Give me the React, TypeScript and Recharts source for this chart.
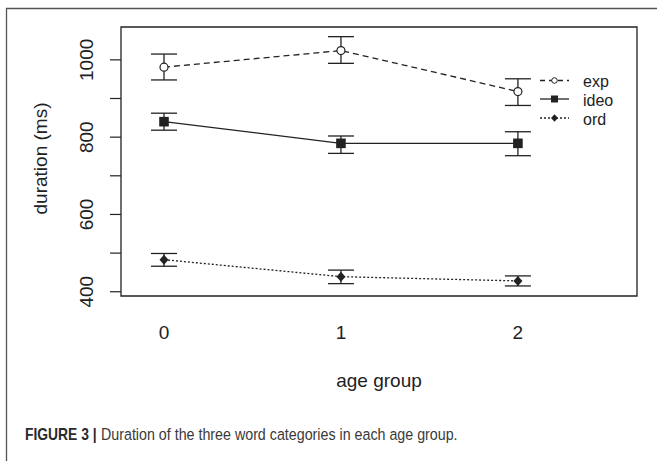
import React from 'react';
import {
  ComposedChart,
  Line,
  XAxis,
  YAxis,
  ErrorBar,
  ReferenceArea,
  Legend,
  Label,
} from 'recharts';

// ---- data ----
const ageGroups = [0, 1, 2];
const expMean = [981, 1024, 918];
const expLow = [948, 991, 882];
const expHigh = [1015, 1060, 951];
const ideoMean = [840, 784, 784];
const ideoLow = [818, 758, 752];
const ideoHigh = [862, 803, 814];
const ordMean = [483, 439, 428];
const ordLow = [466, 421, 415];
const ordHigh = [499, 456, 441];
const yTicks = [400, 500, 600, 700, 800, 900, 1000];
const yLabelTicks = [400, 600, 800, 1000];
const xTicks = [0, 1, 2];
const seriesNames = ['exp', 'ideo', 'ord'];
const xTitle = 'age group';
const yTitle = 'duration (ms)';
const captionBold = 'FIGURE 3 |';
const captionText = 'Duration of the three word categories in each age group.';

const X_DOMAIN: [number, number] = [-0.243, 2.673];
const Y_DOMAIN: [number, number] = [389, 1085];

const rows = ageGroups.map((a, i) => ({
  age: a,
  exp: expMean[i],
  expErr: [expMean[i] - expLow[i], expHigh[i] - expMean[i]],
  ideo: ideoMean[i],
  ideoErr: [ideoMean[i] - ideoLow[i], ideoHigh[i] - ideoMean[i]],
  ord: ordMean[i],
  ordErr: [ordMean[i] - ordLow[i], ordHigh[i] - ordMean[i]],
}));

const INK = '#222';
const FONT = '"Liberation Sans", Arial, sans-serif';

const CircleDot = (p: any) => (
  <circle cx={p.cx} cy={p.cy} r={4} fill="#fff" stroke={INK} strokeWidth={1.2} />
);
const SquareDot = (p: any) => (
  <rect x={p.cx - 4.8} y={p.cy - 4.8} width={9.6} height={9.6} fill={INK} />
);
const DiamondDot = (p: any) => (
  <polygon
    points={`${p.cx},${p.cy - 5} ${p.cx + 4.5},${p.cy} ${p.cx},${p.cy + 5} ${p.cx - 4.5},${p.cy}`}
    fill={INK}
  />
);

const YTick = (p: any) => {
  const v = p.payload.value;
  if (!yLabelTicks.includes(v)) return <g />;
  const cx = p.x - 23;
  return (
    <text
      x={cx}
      y={p.y}
      transform={`rotate(-90 ${cx} ${p.y})`}
      textAnchor="middle"
      dominantBaseline="central"
      fontFamily={FONT}
      fontSize={19}
      fill={INK}
    >
      {v}
    </text>
  );
};

const XTick = (p: any) => (
  <text
    x={p.x}
    y={p.y + 28}
    textAnchor="middle"
    dominantBaseline="central"
    fontFamily={FONT}
    fontSize={19}
    fill={INK}
  >
    {p.payload.value}
  </text>
);

const LegendContent = () => {
  const rowsY = [12.5, 31, 50];
  return (
    <svg width={100} height={62} style={{ display: 'block' }}>
      {seriesNames.map((n, i) => {
        const y = rowsY[i];
        const dash = i === 0 ? '5 4' : i === 2 ? '2 2' : undefined;
        return (
          <g key={n}>
            <line x1={10} x2={39} y1={y} y2={y} stroke={INK} strokeWidth={1.3} strokeDasharray={dash} />
            {i === 0 && <circle cx={24.5} cy={y} r={2.8} fill="#fff" stroke={INK} strokeWidth={1} />}
            {i === 1 && <rect x={21} y={y - 3.5} width={7} height={7} fill={INK} />}
            {i === 2 && (
              <polygon points={`24.5,${y - 3.8} 28,${y} 24.5,${y + 3.8} 21,${y}`} fill={INK} />
            )}
            <text x={53} y={y + 6.5} fontFamily={FONT} fontSize={16} fill={INK}>
              {n}
            </text>
          </g>
        );
      })}
    </svg>
  );
};

export default function App() {
  return (
    <div style={{ position: 'absolute', left: 0, top: 0, width: 657, height: 461, background: '#fff' }}>
      <ComposedChart
        width={657}
        height={461}
        data={rows}
        margin={{ top: 27, right: 20, bottom: 0, left: 0 }}
      >
        <XAxis
          dataKey="age"
          type="number"
          domain={X_DOMAIN}
          ticks={xTicks}
          allowDataOverflow
          axisLine={false}
          tickLine={false}
          height={165}
          tick={<XTick />}
          interval={0}
        >
          <Label
            content={(lp: any) => {
              const vb = lp.viewBox;
              return (
                <text
                  x={vb.x + vb.width / 2}
                  y={380}
                  textAnchor="middle"
                  dominantBaseline="central"
                  fontFamily={FONT}
                  fontSize={19}
                  fill={INK}
                >
                  {xTitle}
                </text>
              );
            }}
          />
        </XAxis>
        <YAxis
          type="number"
          domain={Y_DOMAIN}
          ticks={yTicks}
          allowDataOverflow
          axisLine={false}
          tickSize={11}
          tickMargin={0}
          tickLine={{ stroke: INK, strokeWidth: 1.2 }}
          width={121}
          tick={<YTick />}
          interval={0}
        >
          <Label
            content={(lp: any) => {
              const vb = lp.viewBox;
              const cy = vb.y + vb.height / 2 - 3;
              return (
                <text
                  x={40}
                  y={cy}
                  transform={`rotate(-90 40 ${cy})`}
                  textAnchor="middle"
                  dominantBaseline="central"
                  fontFamily={FONT}
                  fontSize={19}
                  fill={INK}
                >
                  {yTitle}
                </text>
              );
            }}
          />
        </YAxis>
        <ReferenceArea
          x1={X_DOMAIN[0]}
          x2={X_DOMAIN[1]}
          y1={Y_DOMAIN[0]}
          y2={Y_DOMAIN[1]}
          fill="none"
          stroke={INK}
          strokeWidth={1.3}
          ifOverflow="visible"
        />
        <Legend
          layout="horizontal"
          verticalAlign="middle"
          align="center"
          content={<LegendContent />}
          wrapperStyle={{ position: 'absolute', left: 530, top: 68, width: 100, height: 62 }}
        />
        <Line
          dataKey="exp"
          type="linear"
          stroke={INK}
          strokeWidth={1.3}
          strokeDasharray="6 4"
          dot={<CircleDot />}
          isAnimationActive={false}
        >
          <ErrorBar dataKey="expErr" direction="y" width={13} stroke={INK} strokeWidth={1.3} />
        </Line>
        <Line
          dataKey="ideo"
          type="linear"
          stroke={INK}
          strokeWidth={1.3}
          dot={<SquareDot />}
          isAnimationActive={false}
        >
          <ErrorBar dataKey="ideoErr" direction="y" width={13} stroke={INK} strokeWidth={1.3} />
        </Line>
        <Line
          dataKey="ord"
          type="linear"
          stroke={INK}
          strokeWidth={1.3}
          strokeDasharray="2 2"
          dot={<DiamondDot />}
          isAnimationActive={false}
        >
          <ErrorBar dataKey="ordErr" direction="y" width={13} stroke={INK} strokeWidth={1.3} />
        </Line>
      </ComposedChart>
      <svg
        width={657}
        height={461}
        style={{ position: 'absolute', left: 0, top: 0, pointerEvents: 'none' }}
      >
        <line x1={6.5} y1={8} x2={6.5} y2={461} stroke="#555" strokeWidth={1.3} />
        <line x1={6} y1={8.5} x2={657} y2={8.5} stroke="#555" strokeWidth={1.3} />
        <g transform="translate(25 440) scale(0.84 1)">
          <text x={0} y={0} fontFamily={FONT} fontSize={16.5} fontWeight="bold" fill="#2a2a2a">
            {captionBold}
          </text>
        </g>
        <g transform="translate(101 440) scale(0.865 1)">
          <text x={0} y={0} fontFamily={FONT} fontSize={16.5} fill="#3a3a3a">
            {captionText}
          </text>
        </g>
      </svg>
    </div>
  );
}
